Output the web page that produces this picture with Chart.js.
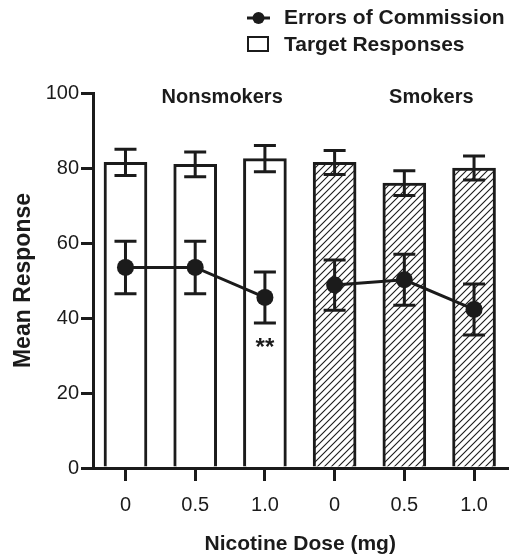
<!DOCTYPE html>
<html>
<head>
<meta charset="utf-8">
<script src="https://cdn.jsdelivr.net/npm/chart.js@4/dist/chart.umd.min.js"></script>
<style>
  html, body { margin: 0; padding: 0; background: #fff; }
  #wrap { width: 516px; height: 558px; }
</style>
</head>
<body>
<div id="wrap"><canvas id="chart" width="516" height="558"></canvas></div>
<script>
// data
const doseLabels = ['0', '0.5', '1.0', '0', '0.5', '1.0'];
const groups = ['Nonsmokers', 'Nonsmokers', 'Nonsmokers', 'Smokers', 'Smokers', 'Smokers'];
const targetMean = [81.5, 81, 82.5, 81.5, 76, 80];
const targetSem = [3.5, 3.3, 3.5, 3.2, 3.3, 3.2];
const errorsMean = [53.5, 53.5, 45.5, 48.8, 50.2, 42.3];
const errorsSem = [7, 7, 6.8, 6.7, 6.8, 6.8];
const significance = ['', '', '**', '', '', ''];

const ink = '#1b1b1b';
const FONT = 'Arial, "Liberation Sans", sans-serif';

// diagonal hatch for the smokers bars
function makeHatch() {
  const c = document.createElement('canvas');
  c.width = 7; c.height = 7;
  const g = c.getContext('2d');
  g.fillStyle = '#fff';
  g.fillRect(0, 0, 7, 7);
  g.strokeStyle = ink;
  g.lineWidth = 1.1;
  g.beginPath();
  g.moveTo(-1, 8); g.lineTo(8, -1);
  g.moveTo(-1, 1); g.lineTo(1, -1);
  g.moveTo(6, 8); g.lineTo(8, 6);
  g.stroke();
  return g.createPattern(c, 'repeat');
}
const hatch = makeHatch();

const toXY = arr => arr.map((v, i) => ({ x: i, y: v }));

// error bars, group titles, significance marks and legend
const extras = {
  id: 'extras',
  beforeDatasetDraw(chart, args) {
    if (args.index === 0) drawErrors(chart, errorsMean, errorsSem);
  },
  afterDatasetDraw(chart, args) {
    if (args.index === 1) drawErrors(chart, targetMean, targetSem);
  },
  afterDraw(chart) {
    const { ctx, scales: { x, y } } = chart;
    ctx.save();
    ctx.fillStyle = ink;
    ctx.textAlign = 'center';
    ctx.textBaseline = 'middle';

    // group titles over each half
    ctx.font = 'bold 20px ' + FONT;
    [...new Set(groups)].forEach(g => {
      const idx = groups.map((v, i) => v === g ? i : -1).filter(i => i >= 0);
      const mid = (idx[0] + idx[idx.length - 1]) / 2;
      ctx.fillText(g, x.getPixelForValue(mid) + 27, 97);
    });

    // significance
    ctx.font = 'bold 24px ' + FONT;
    significance.forEach((s, i) => {
      if (!s) return;
      const py = y.getPixelForValue(errorsMean[i] - errorsSem[i]) + 25;
      ctx.fillText(s, x.getPixelForValue(i), py);
    });

    // legend
    ctx.strokeStyle = ink;
    ctx.lineWidth = 3;
    ctx.beginPath();
    ctx.moveTo(247, 18); ctx.lineTo(270, 18);
    ctx.stroke();
    ctx.beginPath();
    ctx.arc(258.5, 18, 6, 0, Math.PI * 2);
    ctx.fill();
    ctx.lineWidth = 2;
    ctx.strokeRect(248, 37, 20, 14);
    ctx.textAlign = 'left';
    ctx.font = 'bold 21px ' + FONT;
    ctx.fillText('Errors of Commission', 284, 18);
    ctx.fillText('Target Responses', 284, 45);
    ctx.restore();
  }
};

function drawErrors(chart, means, sems) {
  const { ctx, scales: { x, y } } = chart;
  ctx.save();
  ctx.strokeStyle = ink;
  ctx.lineWidth = 3;
  means.forEach((m, i) => {
    const px = x.getPixelForValue(i);
    const hi = y.getPixelForValue(m + sems[i]);
    const lo = y.getPixelForValue(m - sems[i]);
    ctx.beginPath();
    ctx.moveTo(px, hi); ctx.lineTo(px, lo);
    ctx.moveTo(px - 11, hi); ctx.lineTo(px + 11, hi);
    ctx.moveTo(px - 11, lo); ctx.lineTo(px + 11, lo);
    ctx.stroke();
  });
  ctx.restore();
}

new Chart(document.getElementById('chart'), {
  data: {
    datasets: [
      {
        type: 'line',
        label: 'Errors of Commission',
        data: toXY(errorsMean),
        order: 0,
        borderColor: ink,
        borderWidth: 3,
        backgroundColor: ink,
        pointRadius: 8.5,
        pointHoverRadius: 8.5,
        pointBackgroundColor: ink,
        pointBorderWidth: 0,
        segment: {
          borderColor: c => groups[c.p0DataIndex] !== groups[c.p1DataIndex] ? 'transparent' : ink
        }
      },
      {
        type: 'bar',
        label: 'Target Responses',
        data: toXY(targetMean),
        order: 1,
        backgroundColor: targetMean.map((_, i) => groups[i] === 'Smokers' ? hatch : '#fff'),
        borderColor: ink,
        borderWidth: 3,
        borderSkipped: 'start',
        barThickness: 43
      }
    ]
  },
  options: {
    responsive: false,
    animation: false,
    events: [],
    layout: { padding: { top: 93, right: 2, left: 0, bottom: 0 } },
    plugins: { legend: { display: false }, tooltip: { enabled: false } },
    scales: {
      x: {
        type: 'linear',
        offset: false,
        min: -0.466,
        max: 5.48,
        afterBuildTicks: s => { s.ticks = doseLabels.map((_, i) => ({ value: i })); },
        afterFit: s => { s.height = 90; },
        ticks: {
          callback: v => doseLabels[v],
          color: ink,
          font: { family: FONT, size: 20 },
          padding: 12
        },
        grid: { offset: false, drawOnChartArea: false, drawTicks: true, tickLength: 13, lineWidth: 3, color: ink },
        border: { width: 3, color: ink },
        title: {
          display: true,
          text: 'Nicotine Dose (mg)',
          color: ink,
          font: { family: FONT, size: 21, weight: 'bold' },
          padding: { top: 0, bottom: 1 }
        }
      },
      y: {
        min: 0,
        max: 100,
        afterFit: s => { s.width = 93; },
        ticks: {
          stepSize: 20,
          color: ink,
          font: { family: FONT, size: 20 },
          padding: 2
        },
        grid: { drawOnChartArea: false, drawTicks: true, tickLength: 12, lineWidth: 3, color: ink },
        border: { width: 3, color: ink },
        title: {
          display: true,
          text: 'Mean Response',
          color: ink,
          font: { family: FONT, size: 23, weight: 'bold' },
          padding: { top: 10, bottom: 0 }
        }
      }
    }
  },
  plugins: [extras]
});
</script>
</body>
</html>
